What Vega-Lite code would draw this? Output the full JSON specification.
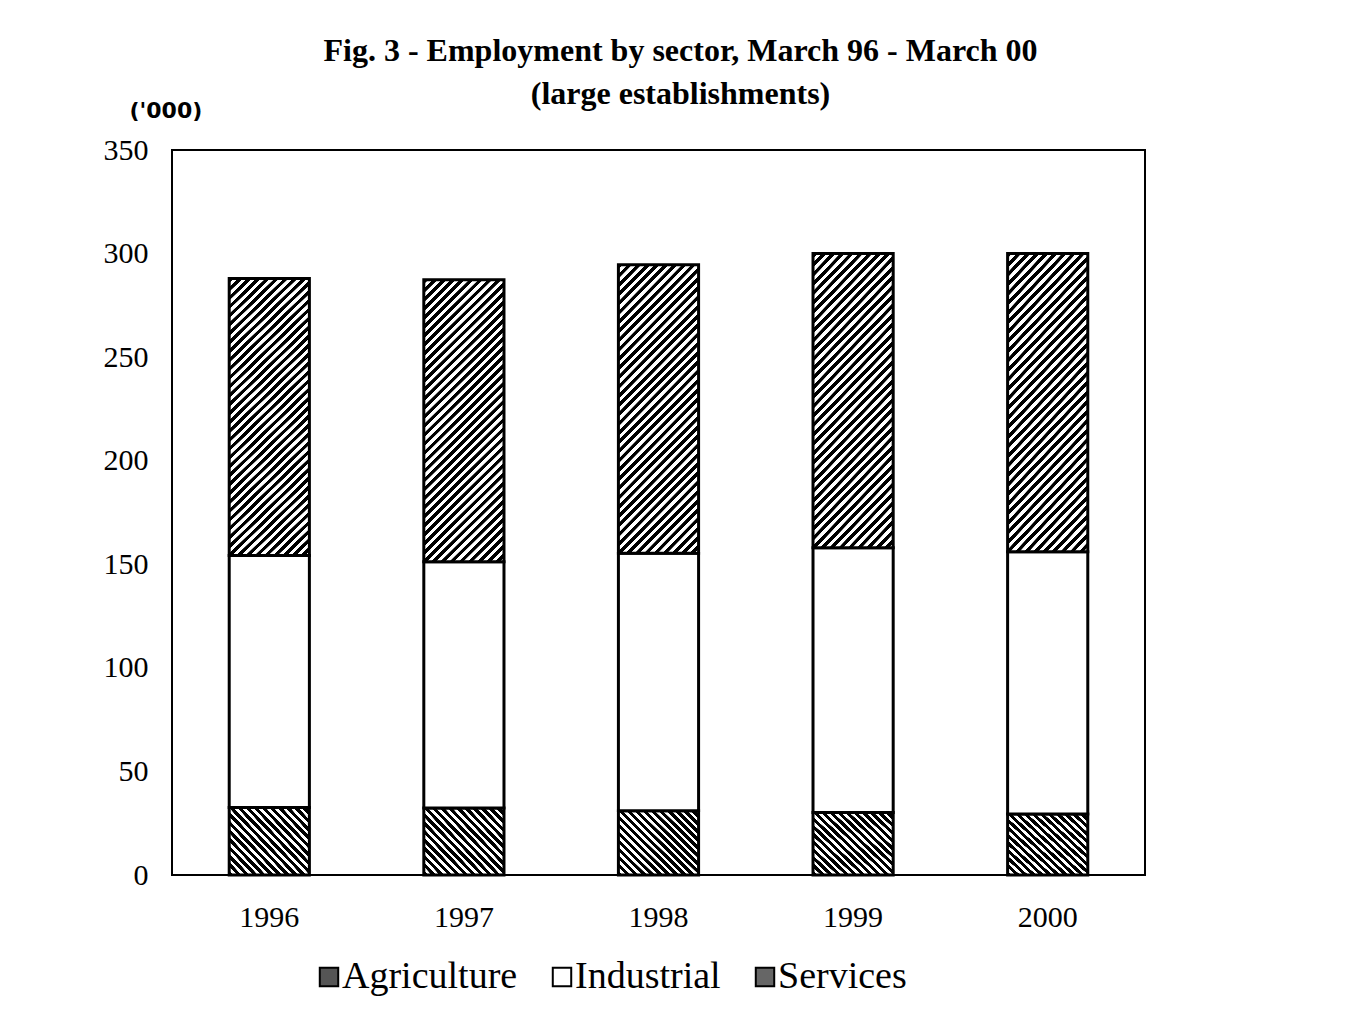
{
  "$schema": "https://vega.github.io/schema/vega-lite/v6.json",
  "width": 973,
  "height": 725,
  "autosize": {"type": "none"},
  "padding": {"left": 172, "top": 150, "right": 208, "bottom": 135},
  "background": "white",
  "title": {
    "text": ["Fig. 3 - Employment by sector, March 96 - March 00", "(large establishments)"],
    "font": "Liberation Serif",
    "fontSize": 32,
    "fontWeight": "bold",
    "color": "black",
    "lineHeight": 43,
    "anchor": "middle",
    "frame": "group",
    "dx": 22,
    "offset": -12
  },
  "data": {
    "values": [
      {"year": "1996", "sector": "Agriculture", "value": 32.6},
      {"year": "1996", "sector": "Industrial", "value": 121.7},
      {"year": "1996", "sector": "Services", "value": 133.7},
      {"year": "1997", "sector": "Agriculture", "value": 32.4},
      {"year": "1997", "sector": "Industrial", "value": 118.8},
      {"year": "1997", "sector": "Services", "value": 136.2},
      {"year": "1998", "sector": "Agriculture", "value": 31.0},
      {"year": "1998", "sector": "Industrial", "value": 124.3},
      {"year": "1998", "sector": "Services", "value": 139.3},
      {"year": "1999", "sector": "Agriculture", "value": 30.2},
      {"year": "1999", "sector": "Industrial", "value": 127.8},
      {"year": "1999", "sector": "Services", "value": 142.0},
      {"year": "2000", "sector": "Agriculture", "value": 29.4},
      {"year": "2000", "sector": "Industrial", "value": 126.7},
      {"year": "2000", "sector": "Services", "value": 143.9}
    ]
  },
  "mark": {"type": "bar", "stroke": "black", "strokeWidth": 3},
  "encoding": {
    "x": {
      "field": "year",
      "type": "ordinal",
      "scale": {"paddingInner": 0.588, "paddingOuter": 0.294},
      "axis": {"title": null, "labelAngle": 0, "ticks": false, "tickSize": 0, "labelPadding": 27, "labelFontSize": 30, "labelFont": "Liberation Serif", "labelColor": "black", "domain": false, "grid": false}
    },
    "y": {
      "field": "value",
      "type": "quantitative",
      "stack": "zero",
      "scale": {"domain": [0, 350], "nice": false},
      "axis": {
        "title": "('000)",
        "titleAngle": 0,
        "titleAlign": "left",
        "titleBaseline": "middle",
        "titleX": -43,
        "titleY": -40,
        "titleFont": "DejaVu Sans",
        "titleFontWeight": "bold",
        "titleFontSize": 22,
        "titleColor": "black",
        "values": [0, 50, 100, 150, 200, 250, 300, 350],
        "ticks": false,
        "tickSize": 0,
        "labelPadding": 24,
        "labelFontSize": 30,
        "labelFont": "Liberation Serif",
        "labelColor": "black",
        "grid": false,
        "domain": false
      }
    },
    "order": {"field": "sector", "sort": "ascending"},
    "fill": {
      "field": "sector",
      "type": "nominal",
      "scale": {"domain": ["Agriculture", "Industrial", "Services"], "range": ["#555555", "#ffffff", "#666666"]},
      "condition": [
        {"test": "datum.sector === 'Agriculture'", "value": {"gradient": "linear", "x1": 0, "y1": 1, "x2": 1.093, "y2": 0.114, "stops": [
            {"offset": 0, "color": "#000"}, {"offset": 0.030, "color": "#000"}, {"offset": 0.031, "color": "#fff"}, {"offset": 0.055, "color": "#fff"},
            {"offset": 0.056, "color": "#000"}, {"offset": 0.086, "color": "#000"}, {"offset": 0.087, "color": "#fff"}, {"offset": 0.110, "color": "#fff"},
            {"offset": 0.111, "color": "#000"}, {"offset": 0.141, "color": "#000"}, {"offset": 0.142, "color": "#fff"}, {"offset": 0.166, "color": "#fff"},
            {"offset": 0.167, "color": "#000"}, {"offset": 0.197, "color": "#000"}, {"offset": 0.198, "color": "#fff"}, {"offset": 0.221, "color": "#fff"},
            {"offset": 0.222, "color": "#000"}, {"offset": 0.252, "color": "#000"}, {"offset": 0.253, "color": "#fff"}, {"offset": 0.277, "color": "#fff"},
            {"offset": 0.278, "color": "#000"}, {"offset": 0.308, "color": "#000"}, {"offset": 0.309, "color": "#fff"}, {"offset": 0.332, "color": "#fff"},
            {"offset": 0.333, "color": "#000"}, {"offset": 0.363, "color": "#000"}, {"offset": 0.364, "color": "#fff"}, {"offset": 0.388, "color": "#fff"},
            {"offset": 0.389, "color": "#000"}, {"offset": 0.419, "color": "#000"}, {"offset": 0.420, "color": "#fff"}, {"offset": 0.443, "color": "#fff"},
            {"offset": 0.444, "color": "#000"}, {"offset": 0.474, "color": "#000"}, {"offset": 0.475, "color": "#fff"}, {"offset": 0.499, "color": "#fff"},
            {"offset": 0.500, "color": "#000"}, {"offset": 0.530, "color": "#000"}, {"offset": 0.531, "color": "#fff"}, {"offset": 0.555, "color": "#fff"},
            {"offset": 0.556, "color": "#000"}, {"offset": 0.586, "color": "#000"}, {"offset": 0.587, "color": "#fff"}, {"offset": 0.610, "color": "#fff"},
            {"offset": 0.611, "color": "#000"}, {"offset": 0.641, "color": "#000"}, {"offset": 0.642, "color": "#fff"}, {"offset": 0.666, "color": "#fff"},
            {"offset": 0.667, "color": "#000"}, {"offset": 0.697, "color": "#000"}, {"offset": 0.698, "color": "#fff"}, {"offset": 0.721, "color": "#fff"},
            {"offset": 0.722, "color": "#000"}, {"offset": 0.752, "color": "#000"}, {"offset": 0.753, "color": "#fff"}, {"offset": 0.777, "color": "#fff"},
            {"offset": 0.778, "color": "#000"}, {"offset": 0.808, "color": "#000"}, {"offset": 0.809, "color": "#fff"}, {"offset": 0.832, "color": "#fff"},
            {"offset": 0.833, "color": "#000"}, {"offset": 0.863, "color": "#000"}, {"offset": 0.864, "color": "#fff"}, {"offset": 0.888, "color": "#fff"},
            {"offset": 0.889, "color": "#000"}, {"offset": 0.919, "color": "#000"}, {"offset": 0.920, "color": "#fff"}, {"offset": 0.943, "color": "#fff"},
            {"offset": 0.944, "color": "#000"}, {"offset": 0.974, "color": "#000"}, {"offset": 0.975, "color": "#fff"}, {"offset": 1, "color": "#fff"}
          ]}},
        {"test": "datum.sector === 'Services'", "value": {"gradient": "linear", "x1": 0, "y1": 0, "x2": 0.334, "y2": 1.188, "stops": [
            {"offset": 0, "color": "#000"}, {"offset": 0.012, "color": "#000"}, {"offset": 0.013, "color": "#fff"}, {"offset": 0.024, "color": "#fff"},
            {"offset": 0.025, "color": "#000"}, {"offset": 0.037, "color": "#000"}, {"offset": 0.038, "color": "#fff"}, {"offset": 0.049, "color": "#fff"},
            {"offset": 0.050, "color": "#000"}, {"offset": 0.062, "color": "#000"}, {"offset": 0.063, "color": "#fff"}, {"offset": 0.074, "color": "#fff"},
            {"offset": 0.075, "color": "#000"}, {"offset": 0.087, "color": "#000"}, {"offset": 0.088, "color": "#fff"}, {"offset": 0.099, "color": "#fff"},
            {"offset": 0.100, "color": "#000"}, {"offset": 0.112, "color": "#000"}, {"offset": 0.113, "color": "#fff"}, {"offset": 0.124, "color": "#fff"},
            {"offset": 0.125, "color": "#000"}, {"offset": 0.137, "color": "#000"}, {"offset": 0.138, "color": "#fff"}, {"offset": 0.149, "color": "#fff"},
            {"offset": 0.150, "color": "#000"}, {"offset": 0.162, "color": "#000"}, {"offset": 0.163, "color": "#fff"}, {"offset": 0.174, "color": "#fff"},
            {"offset": 0.175, "color": "#000"}, {"offset": 0.187, "color": "#000"}, {"offset": 0.188, "color": "#fff"}, {"offset": 0.199, "color": "#fff"},
            {"offset": 0.200, "color": "#000"}, {"offset": 0.212, "color": "#000"}, {"offset": 0.213, "color": "#fff"}, {"offset": 0.224, "color": "#fff"},
            {"offset": 0.225, "color": "#000"}, {"offset": 0.237, "color": "#000"}, {"offset": 0.238, "color": "#fff"}, {"offset": 0.249, "color": "#fff"},
            {"offset": 0.250, "color": "#000"}, {"offset": 0.262, "color": "#000"}, {"offset": 0.263, "color": "#fff"}, {"offset": 0.274, "color": "#fff"},
            {"offset": 0.275, "color": "#000"}, {"offset": 0.287, "color": "#000"}, {"offset": 0.288, "color": "#fff"}, {"offset": 0.299, "color": "#fff"},
            {"offset": 0.300, "color": "#000"}, {"offset": 0.312, "color": "#000"}, {"offset": 0.313, "color": "#fff"}, {"offset": 0.324, "color": "#fff"},
            {"offset": 0.325, "color": "#000"}, {"offset": 0.337, "color": "#000"}, {"offset": 0.338, "color": "#fff"}, {"offset": 0.349, "color": "#fff"},
            {"offset": 0.350, "color": "#000"}, {"offset": 0.362, "color": "#000"}, {"offset": 0.363, "color": "#fff"}, {"offset": 0.374, "color": "#fff"},
            {"offset": 0.375, "color": "#000"}, {"offset": 0.387, "color": "#000"}, {"offset": 0.388, "color": "#fff"}, {"offset": 0.399, "color": "#fff"},
            {"offset": 0.400, "color": "#000"}, {"offset": 0.412, "color": "#000"}, {"offset": 0.413, "color": "#fff"}, {"offset": 0.424, "color": "#fff"},
            {"offset": 0.425, "color": "#000"}, {"offset": 0.437, "color": "#000"}, {"offset": 0.438, "color": "#fff"}, {"offset": 0.449, "color": "#fff"},
            {"offset": 0.450, "color": "#000"}, {"offset": 0.462, "color": "#000"}, {"offset": 0.463, "color": "#fff"}, {"offset": 0.474, "color": "#fff"},
            {"offset": 0.475, "color": "#000"}, {"offset": 0.487, "color": "#000"}, {"offset": 0.488, "color": "#fff"}, {"offset": 0.499, "color": "#fff"},
            {"offset": 0.500, "color": "#000"}, {"offset": 0.512, "color": "#000"}, {"offset": 0.513, "color": "#fff"}, {"offset": 0.524, "color": "#fff"},
            {"offset": 0.525, "color": "#000"}, {"offset": 0.537, "color": "#000"}, {"offset": 0.538, "color": "#fff"}, {"offset": 0.549, "color": "#fff"},
            {"offset": 0.550, "color": "#000"}, {"offset": 0.562, "color": "#000"}, {"offset": 0.563, "color": "#fff"}, {"offset": 0.574, "color": "#fff"},
            {"offset": 0.575, "color": "#000"}, {"offset": 0.587, "color": "#000"}, {"offset": 0.588, "color": "#fff"}, {"offset": 0.599, "color": "#fff"},
            {"offset": 0.600, "color": "#000"}, {"offset": 0.612, "color": "#000"}, {"offset": 0.613, "color": "#fff"}, {"offset": 0.624, "color": "#fff"},
            {"offset": 0.625, "color": "#000"}, {"offset": 0.637, "color": "#000"}, {"offset": 0.638, "color": "#fff"}, {"offset": 0.649, "color": "#fff"},
            {"offset": 0.650, "color": "#000"}, {"offset": 0.662, "color": "#000"}, {"offset": 0.663, "color": "#fff"}, {"offset": 0.674, "color": "#fff"},
            {"offset": 0.675, "color": "#000"}, {"offset": 0.687, "color": "#000"}, {"offset": 0.688, "color": "#fff"}, {"offset": 0.699, "color": "#fff"},
            {"offset": 0.700, "color": "#000"}, {"offset": 0.712, "color": "#000"}, {"offset": 0.713, "color": "#fff"}, {"offset": 0.724, "color": "#fff"},
            {"offset": 0.725, "color": "#000"}, {"offset": 0.737, "color": "#000"}, {"offset": 0.738, "color": "#fff"}, {"offset": 0.749, "color": "#fff"},
            {"offset": 0.750, "color": "#000"}, {"offset": 0.762, "color": "#000"}, {"offset": 0.763, "color": "#fff"}, {"offset": 0.774, "color": "#fff"},
            {"offset": 0.775, "color": "#000"}, {"offset": 0.787, "color": "#000"}, {"offset": 0.788, "color": "#fff"}, {"offset": 0.799, "color": "#fff"},
            {"offset": 0.800, "color": "#000"}, {"offset": 0.812, "color": "#000"}, {"offset": 0.813, "color": "#fff"}, {"offset": 0.824, "color": "#fff"},
            {"offset": 0.825, "color": "#000"}, {"offset": 0.837, "color": "#000"}, {"offset": 0.838, "color": "#fff"}, {"offset": 0.849, "color": "#fff"},
            {"offset": 0.850, "color": "#000"}, {"offset": 0.862, "color": "#000"}, {"offset": 0.863, "color": "#fff"}, {"offset": 0.874, "color": "#fff"},
            {"offset": 0.875, "color": "#000"}, {"offset": 0.887, "color": "#000"}, {"offset": 0.888, "color": "#fff"}, {"offset": 0.899, "color": "#fff"},
            {"offset": 0.900, "color": "#000"}, {"offset": 0.912, "color": "#000"}, {"offset": 0.913, "color": "#fff"}, {"offset": 0.924, "color": "#fff"},
            {"offset": 0.925, "color": "#000"}, {"offset": 0.937, "color": "#000"}, {"offset": 0.938, "color": "#fff"}, {"offset": 0.949, "color": "#fff"},
            {"offset": 0.950, "color": "#000"}, {"offset": 0.962, "color": "#000"}, {"offset": 0.963, "color": "#fff"}, {"offset": 0.974, "color": "#fff"},
            {"offset": 0.975, "color": "#000"}, {"offset": 0.987, "color": "#000"}, {"offset": 0.988, "color": "#fff"}, {"offset": 1, "color": "#fff"}
          ]}}
      ],
      "legend": {
        "title": null,
        "orient": "none",
        "direction": "horizontal",
        "legendX": 138,
        "legendY": 808,
        "symbolType": "square",
        "symbolSize": 340,
        "symbolStrokeColor": "black",
        "symbolStrokeWidth": 2,
        "labelFontSize": 38,
        "labelFont": "Liberation Serif",
        "labelColor": "black",
        "labelOffset": -6,
        "columnPadding": 25,
        "labelLimit": 400,
        "padding": 0
      }
    }
  },
  "config": {
    "view": {"stroke": "black", "strokeWidth": 2},
    "font": "Liberation Serif"
  }
}
